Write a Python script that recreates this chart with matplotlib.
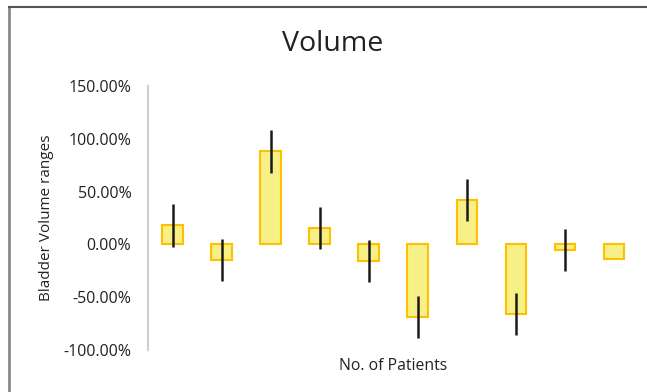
import matplotlib.pyplot as plt
from matplotlib.lines import Line2D
from matplotlib.ticker import FuncFormatter

plt.rcParams['font.family'] = ['Open Sans', 'DejaVu Sans']

patients = list(range(1, 11))
volume = [18, -15, 88, 15.5, -16, -69, 42, -66, -5, -14]
err = [20, 20, 20, 20, 20, 20, 20, 20, 20, 0]
yticks = [-100, -50, 0, 50, 100, 150]

fig = plt.figure(figsize=(6.47, 3.92), dpi=100)
ax = fig.add_axes([148 / 647, (392 - 350) / 392, 490.5 / 647, 264 / 392])

ax.bar(patients, volume, width=0.42, color="#F6F087", edgecolor="#FFC000", linewidth=1.5)
ax.errorbar(patients, volume, yerr=err, fmt="none", ecolor="#1a1a1a", elinewidth=1.8, capsize=0)

ax.set_xlim(0.5, 10.5)
ax.set_ylim(-100, 150)
ax.set_yticks(yticks)
ax.yaxis.set_major_formatter(FuncFormatter(lambda v, p: f"{v:.2f}%"))
ax.set_xticks([])
ax.tick_params(axis="y", length=0, labelsize=11.5, pad=12, colors="#222222")

for s in ["top", "right", "bottom"]:
    ax.spines[s].set_visible(False)
ax.spines["left"].set_color("#d0d0d0")
ax.spines["left"].set_linewidth(1.5)

ax.set_ylabel("Bladder Volume ranges", fontsize=11, color="#222222", labelpad=7)
ax.set_xlabel("No. of Patients", fontsize=11.3, color="#222222", labelpad=6)
fig.text(333 / 647, 1 - 44 / 392, "Volume", ha="center", va="center", fontsize=20.5, color="#222222")

# chart frame lines
fig.add_artist(Line2D([8.5 / 647, 8.5 / 647], [0, 1 - 7 / 392], color="#888888", lw=2))
fig.add_artist(Line2D([8.5 / 647, 1], [1 - 7 / 392, 1 - 7 / 392], color="#555555", lw=1.5))

fig.savefig("out.png", dpi=100)
